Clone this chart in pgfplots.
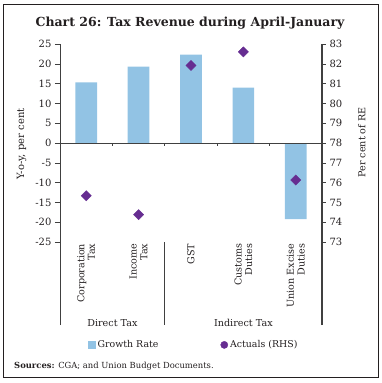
\documentclass[border=0pt]{standalone}
\usepackage{pgfplots}
\pgfplotsset{compat=1.18}
\usepackage{fontspec}
\setmainfont{DejaVu Serif}
\definecolor{barblue}{HTML}{92C3E4}
\definecolor{purp}{HTML}{662D91}
\definecolor{axgray}{HTML}{404040}
\definecolor{txt}{HTML}{231F20}
\newcommand{\catfont}{\fontsize{9.6}{10.6}\selectfont}
\begin{document}
\begin{tikzpicture}
\path (0pt,0pt) rectangle (381pt,-383pt);
\draw[line width=0.8pt, txt] (3.3pt,-4.3pt) rectangle (378.3pt,-377.3pt);
\node[font=\fontsize{12.5}{15}\selectfont\bfseries, text=txt] at (190pt,-23pt) {Chart 26: Tax Revenue during April-January};
\begin{axis}[
  at={(60pt,-325.2pt)}, anchor=south west,
  scale only axis, width=262pt, height=281.2pt,
  xmin=-0.5, xmax=4.5, ymin=-46, ymax=25,
  axis y line*=left, axis x line=none,
  clip=false,
  ytick={-25,-20,...,25},
  y axis line style={line width=0.8pt, axgray},
  tick align=outside, major tick length=5pt,
  every tick/.style={axgray, line width=0.6pt},
  /pgf/number format/assume math mode=true,
  yticklabel style={font=\fontsize{10}{12}\selectfont, text=txt},
]
\addplot[ybar, bar width=21.7pt, fill=barblue, draw=none] coordinates {(0,15.3) (1,19.3) (2,22.3) (3,14.0) (4,-19.2)};
\draw[axgray, line width=0.8pt] (axis cs:-0.5,0) -- (axis cs:4.5,0);
\draw[axgray, line width=0.6pt] (axis cs:0.5,0) -- (axis cs:0.5,-0.8);
\draw[axgray, line width=0.6pt] (axis cs:1.5,0) -- (axis cs:1.5,-0.8);
\draw[axgray, line width=0.6pt] (axis cs:2.5,0) -- (axis cs:2.5,-0.8);
\draw[axgray, line width=0.6pt] (axis cs:3.5,0) -- (axis cs:3.5,-0.8);
\draw[axgray, line width=0.8pt] (axis cs:1.5,-25) -- (axis cs:1.5,-46);
\node[rotate=90, anchor=east, align=right, font=\catfont, text=txt, inner sep=0pt] at (axis cs:0,-25.4) {Corporation\\Tax};
\node[rotate=90, anchor=east, align=right, font=\catfont, text=txt, inner sep=0pt] at (axis cs:1,-25.4) {Income\\Tax};
\node[rotate=90, anchor=east, align=right, font=\catfont, text=txt, inner sep=0pt] at (axis cs:2,-25.4) {GST};
\node[rotate=90, anchor=east, align=right, font=\catfont, text=txt, inner sep=0pt] at (axis cs:3,-25.4) {Customs\\Duties};
\node[rotate=90, anchor=east, align=right, font=\catfont, text=txt, inner sep=0pt] at (axis cs:4,-25.4) {Union Excise\\Duties};
\node[anchor=base, font=\catfont, text=txt, inner sep=0pt] at (axis cs:0.5,-46.4) {Direct Tax};
\node[anchor=base, font=\catfont, text=txt, inner sep=0pt] at (axis cs:3,-46.4) {Indirect Tax};
\end{axis}
\begin{axis}[
  at={(60pt,-325.2pt)}, anchor=south west,
  scale only axis, width=262pt, height=281.2pt,
  xmin=-0.5, xmax=4.5, ymin=68.8, ymax=83,
  axis y line*=right, axis x line=none,
  clip=false,
  ytick={73,...,83},
  y axis line style={line width=1.6pt, axgray},
  tick align=outside, major tick length=4pt,
  every tick/.style={axgray, line width=0.6pt},
  /pgf/number format/assume math mode=true,
  yticklabel style={font=\fontsize{10}{12}\selectfont, text=txt},
  legend style={draw=none, fill=none, legend columns=2, at={(0.511,-0.07)}, anchor=center,
    font=\fontsize{9.4}{11}\selectfont, text=txt,
    /tikz/every even column/.append style={column sep=60pt},
    /tikz/every odd column/.append style={column sep=0pt}},
]
\addlegendimage{legend image code/.code={\fill[barblue] (0pt,-3.5pt) rectangle (7pt,3.5pt);}}
\addlegendimage{legend image code/.code={\fill[purp] (3.5pt,0pt) circle (3.6pt);}}
\addplot[only marks, mark=square*, mark size=3.6pt, mark options={rotate=45, fill=purp, draw=purp}, forget plot] coordinates {(0,75.34) (1,74.38) (2,81.92) (3,82.6) (4,76.13)};
\legend{Growth Rate, Actuals (RHS)}
\end{axis}
\node[rotate=90, font=\fontsize{10}{12}\selectfont, text=txt] at (21.7pt,-144pt) {Y-o-y, per cent};
\node[rotate=90, font=\fontsize{9.6}{12}\selectfont, text=txt] at (361.7pt,-142.5pt) {Per cent of RE};
\node[anchor=west, font=\fontsize{8.4}{10}\selectfont, text=txt, inner sep=0pt] at (14pt,-366pt) {\textbf{Sources:} CGA; and Union Budget Documents.};
\end{tikzpicture}
\end{document}
